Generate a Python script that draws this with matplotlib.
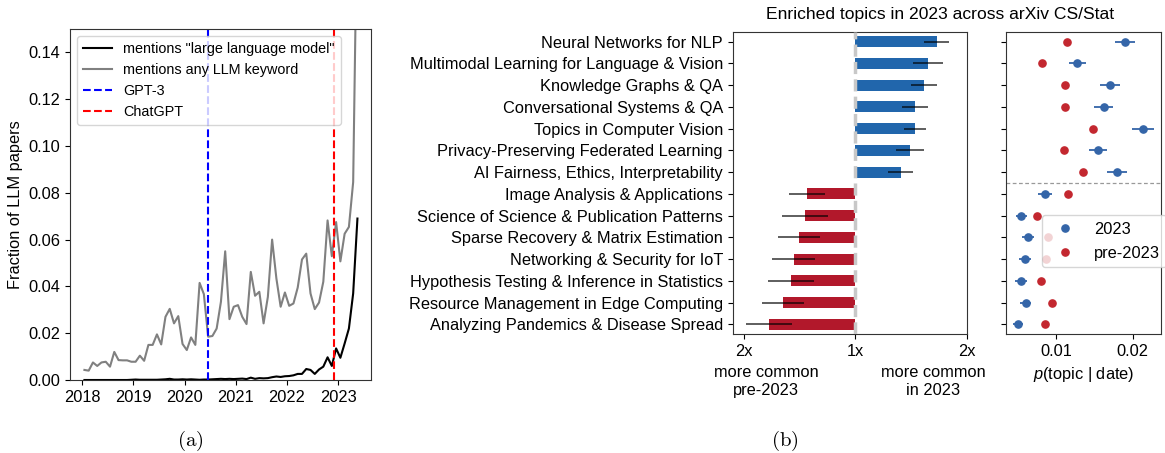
import matplotlib.pyplot as plt
from matplotlib.lines import Line2D
import numpy as np

plt.rcParams['font.family'] = ['Liberation Sans', 'DejaVu Sans']
plt.rcParams['mathtext.fontset'] = 'custom'
plt.rcParams['mathtext.it'] = 'Liberation Sans:italic'
plt.rcParams['axes.edgecolor'] = '#333333'

# ---- panel (a): monthly fraction of LLM papers, Jan 2018 .. May 2023
llm_phrase = [0, 0, 0, 0, 0, 0, 0, 0, 0, 0, 0, 0.0001,
              0.0002, 0.0001, 0.0001, 0.0001, 0.0001, 0.0001, 0.0002, 0.0003, 0.0005, 0.0002, 0.0002, 0.0003,
              0.0002, 0.0003, 0.0002, 0.0001, 0.0002, 0.0002, 0.0003, 0.0004, 0.0005, 0.0004, 0.0005, 0.0004,
              0.0005, 0.0006, 0.0004, 0.0010, 0.0005, 0.0008, 0.0007, 0.0008, 0.0012, 0.0015, 0.0013, 0.0016,
              0.0017, 0.0020, 0.0026, 0.0026, 0.0047, 0.0043, 0.0026, 0.0045, 0.0057, 0.0097, 0.0060, 0.0135,
              0.0095, 0.0156, 0.0220, 0.0370, 0.0690]
any_llm = [0.0043, 0.0040, 0.0075, 0.0060, 0.0075, 0.0078, 0.0057, 0.0120, 0.0085, 0.0084, 0.0084, 0.0078,
           0.0078, 0.0104, 0.0082, 0.0150, 0.0150, 0.0195, 0.0152, 0.0270, 0.0304, 0.0242, 0.0273, 0.0154,
           0.0128, 0.0182, 0.0150, 0.0415, 0.0367, 0.0185, 0.0188, 0.0220, 0.0334, 0.0550, 0.0260, 0.0313,
           0.0320, 0.0270, 0.0239, 0.0462, 0.0360, 0.0377, 0.0242, 0.0355, 0.0600, 0.0434, 0.0313, 0.0374,
           0.0317, 0.0327, 0.0395, 0.0515, 0.0540, 0.0370, 0.0303, 0.0331, 0.0420, 0.0682, 0.0529, 0.0675,
           0.0507, 0.0625, 0.0654, 0.0846, 0.2100]
gpt3_date = 2020.45
chatgpt_date = 2022.92

# ---- panel (b): enriched topics
topics = ["Neural Networks for NLP",
          "Multimodal Learning for Language & Vision",
          "Knowledge Graphs & QA",
          "Conversational Systems & QA",
          "Topics in Computer Vision",
          "Privacy-Preserving Federated Learning",
          "AI Fairness, Ethics, Interpretability",
          "Image Analysis & Applications",
          "Science of Science & Publication Patterns",
          "Sparse Recovery & Matrix Estimation",
          "Networking & Security for IoT",
          "Hypothesis Testing & Inference in Statistics",
          "Resource Management in Edge Computing",
          "Analyzing Pandemics & Disease Spread"]
log2_ratio = [0.731, 0.653, 0.617, 0.536, 0.536, 0.491, 0.41,
              -0.434, -0.452, -0.506, -0.551, -0.578, -0.650, -0.775]
ratio_err = [0.11, 0.135, 0.117, 0.12, 0.10, 0.123, 0.112,
             0.162, 0.204, 0.19, 0.193, 0.204, 0.19, 0.21]
p_2023 = [0.01896, 0.01278, 0.01709, 0.01622, 0.02135, 0.01548, 0.01796,
          0.00852, 0.00548, 0.00630, 0.00596, 0.00543, 0.00604, 0.00504]
p_2023_err = [0.0013, 0.00115, 0.0013, 0.00126, 0.00143, 0.0012, 0.00135,
              0.0009, 0.00074, 0.00078, 0.0008, 0.00078, 0.00076, 0.00063]
p_pre = [0.01148, 0.00817, 0.01122, 0.01122, 0.01478, 0.01104, 0.01352,
         0.01152, 0.00748, 0.00896, 0.0087, 0.0080, 0.00948, 0.00861]
p_pre_err = [0.0003] * 14

blue = '#2166ac'
red = '#b2182b'
dot_blue = '#3465a8'
dot_red = '#c3272f'

W, H = 1165, 453
fig = plt.figure(figsize=(W / 100, H / 100), dpi=100)

def box(l, t, r, b):
    return [l / W, 1 - b / H, (r - l) / W, (b - t) / H]

# ---------------- (a)
ax = fig.add_axes(box(70, 29, 371, 380))
dates = 2018 + (np.arange(len(any_llm)) + 0.5) / 12
ax.plot(dates, llm_phrase, color='black', lw=1.5, label='mentions "large language model"')
ax.plot(dates, any_llm, color='gray', lw=1.5, label='mentions any LLM keyword')
ax.axvline(gpt3_date, color='blue', ls='--', lw=1.5, label='GPT-3')
ax.axvline(chatgpt_date, color='red', ls='--', lw=1.5, label='ChatGPT')
ax.set_ylim(0, 0.15)
ax.set_xlim(2017.76, 2023.64)
ax.set_xticks([2018, 2019, 2020, 2021, 2022, 2023])
ax.set_yticks(np.arange(0, 0.141, 0.02))
ax.set_yticklabels(['%.2f' % v for v in np.arange(0, 0.141, 0.02)])
ax.tick_params(labelsize=11.8)
ax.set_ylabel('Fraction of LLM papers', fontsize=11.8)
ax.legend(loc='upper left', fontsize=10.4, labelspacing=0.48)

# ---------------- (b) bars
axb = fig.add_axes(box(732.7, 31.7, 966.7, 334.3))
ypos = np.arange(len(topics))
cols = [blue if v > 0 else red for v in log2_ratio]
axb.barh(ypos, log2_ratio, height=0.5, color=cols, zorder=2)
axb.errorbar(log2_ratio, ypos, xerr=ratio_err, fmt='none', ecolor='black',
             elinewidth=1.1, alpha=0.8, zorder=3)
axb.axvline(0, color='#c8c8c8', ls=(0, (3.5, 1.5)), lw=2.5, zorder=4)
axb.set_xlim(-1.1, 1.0)
axb.set_ylim(len(topics) - 1 + 0.46, -0.46)
axb.set_yticks(ypos)
axb.set_yticklabels(topics)
axb.set_xticks([-1, 0, 1])
axb.set_xticklabels(['2x', '1x', '2x'])
axb.tick_params(labelsize=11.8)
axb.text(-0.8, -0.155, 'more common\npre-2023', transform=axb.get_xaxis_transform(),
         ha='center', va='center', fontsize=11.8, linespacing=1.25)
axb.text(0.7, -0.155, 'more common\nin 2023', transform=axb.get_xaxis_transform(),
         ha='center', va='center', fontsize=11.8, linespacing=1.25)

# ---------------- (b) dots
axc = fig.add_axes(box(1005.7, 31.7, 1161.3, 334.3))
axc.errorbar(p_2023, ypos, xerr=p_2023_err, fmt='o', color=dot_blue, ms=5.2,
             elinewidth=1.3, zorder=3)
axc.errorbar(p_pre, ypos, xerr=p_pre_err, fmt='o', color=dot_red, ms=5.2,
             elinewidth=1.3, zorder=3)
axc.axhline(6.5, color='#999999', ls='--', lw=0.9, dashes=(3, 2))
axc.set_ylim(len(topics) - 1 + 0.46, -0.46)
axc.set_yticks(ypos)
axc.set_yticklabels([])
axc.set_xlim(0.00344, 0.02373)
axc.set_xticks([0.01, 0.02])
axc.set_xticklabels(['0.01', '0.02'])
axc.tick_params(labelsize=11.8)
axc.set_xlabel('$p$(topic | date)', fontsize=11.8)
handles = [Line2D([], [], marker='o', ls='none', color=dot_blue, ms=5.2),
           Line2D([], [], marker='o', ls='none', color=dot_red, ms=5.2)]
axc.legend(handles, ['2023', 'pre-2023'], loc='upper left', bbox_to_anchor=(0.231, 0.394),
           fontsize=11.8, labelspacing=0.55, handletextpad=0.8, borderaxespad=0)

fig.text(940 / W, 1 - 15 / H, 'Enriched topics in 2023 across arXiv CS/Stat',
         ha='center', va='center', fontsize=12.6)
fig.text(190 / W, 1 - 441 / H, r'$\mathrm{(a)}$', ha='center', va='center',
         fontsize=15, math_fontfamily='cm')
fig.text(785 / W, 1 - 441 / H, r'$\mathrm{(b)}$', ha='center', va='center',
         fontsize=15, math_fontfamily='cm')

fig.savefig('out.png', dpi=100)
